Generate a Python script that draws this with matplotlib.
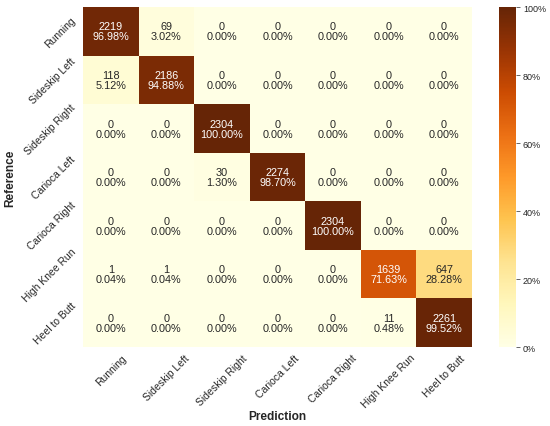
import numpy as np
import matplotlib
matplotlib.use("Agg")
import matplotlib.pyplot as plt
import seaborn as sns
from matplotlib.ticker import FuncFormatter

labels = ["Running", "Sideskip Left", "Sideskip Right", "Carioca Left",
          "Carioca Right", "High Knee Run", "Heel to Butt"]

row_running = [2219, 69, 0, 0, 0, 0, 0]
row_sideskip_left = [118, 2186, 0, 0, 0, 0, 0]
row_sideskip_right = [0, 0, 2304, 0, 0, 0, 0]
row_carioca_left = [0, 0, 30, 2274, 0, 0, 0]
row_carioca_right = [0, 0, 0, 0, 2304, 0, 0]
row_high_knee = [1, 1, 0, 0, 0, 1639, 647]
row_heel_butt = [0, 0, 0, 0, 0, 11, 2261]

counts = np.array([row_running, row_sideskip_left, row_sideskip_right,
                   row_carioca_left, row_carioca_right, row_high_knee,
                   row_heel_butt])
pct = counts / counts.sum(axis=1, keepdims=True) * 100

annot = np.array([[f"{c}\n{p:.2f}%" for c, p in zip(rc, rp)]
                  for rc, rp in zip(counts, pct)])

sns.set_theme(style="white")
plt.rcParams['font.family'] = ['Liberation Sans', 'DejaVu Sans']

fig = plt.figure(figsize=(5.5, 4.27), dpi=100)
ax = fig.add_axes([0.151, 0.185, 0.707, 0.796])
cax = fig.add_axes([0.907, 0.185, 0.031, 0.796])

sns.heatmap(pct, annot=annot, fmt="", cmap="YlOrBr", vmin=0, vmax=100,
            ax=ax, cbar_ax=cax, xticklabels=labels, yticklabels=labels,
            annot_kws={"fontsize": 7.8, "linespacing": 1.0})

ax.set_xticklabels(labels, rotation=45, ha="center", fontsize=7.5,
                   color="0.15")
ax.set_yticklabels(labels, rotation=45, ha="right", va="center",
                   fontsize=7.5, color="0.15")
ax.tick_params(axis="both", length=0, pad=4)
ax.set_xlabel("Prediction", fontsize=8.6, fontweight="bold")
ax.set_ylabel("Reference", fontsize=8.6, fontweight="bold")
ax.xaxis.set_label_coords(0.5, -0.186)
ax.yaxis.set_label_coords(-0.172, 0.5)

cax.yaxis.set_major_formatter(FuncFormatter(lambda v, _: f"{v:.0f}%"))
cax.tick_params(labelsize=6.5, length=3, width=0.6, color="0.3", pad=2,
                labelcolor="0.15")

fig.savefig("out.png", dpi=100)
